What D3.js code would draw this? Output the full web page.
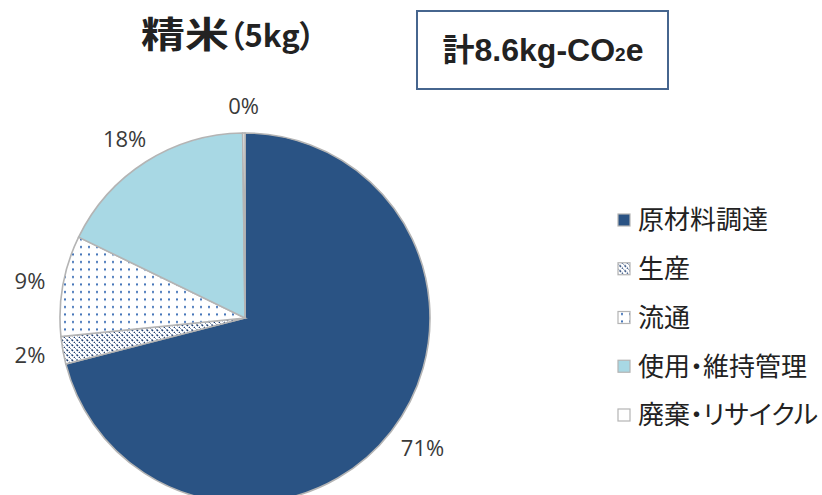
<!DOCTYPE html>
<html>
<head>
<meta charset="utf-8">
<script src="https://cdn.jsdelivr.net/npm/d3@7"></script>
<style>
  body { margin: 0; background: #fff; }
  svg { display: block; }
</style>
</head>
<body>
<div id="chart"></div>
<script>
const categories = ["原材料調達", "生産", "流通", "使用・維持管理", "廃棄・リサイクル"];
const shares = [71.0, 2.4, 8.8, 17.6, 0.2];
const sliceLabels = ["71%", "2%", "9%", "18%", "0%"];
const titleMain = "精米";
const titleSub = "（5kg）";
const totalLabel = "計8.6kg-CO";

const width = 822, height = 495;
const cx = 245, cy = 318, radius = 185;

const svg = d3.select("#chart")
  .append("svg")
  .attr("width", width)
  .attr("height", height);

const defs = svg.append("defs");

// diagonal dashed hatch for 生産
const hatch = defs.append("pattern")
  .attr("id", "hatch")
  .attr("patternUnits", "userSpaceOnUse")
  .attr("width", 5)
  .attr("height", 5);
hatch.append("rect").attr("width", 5).attr("height", 5).attr("fill", "#fff");
hatch.append("path")
  .attr("d", "M-1,-1 L6,6")
  .attr("stroke", "#1f3f73")
  .attr("stroke-width", 1.5)
  .attr("stroke-dasharray", "2.2,1.3");

// dots for 流通
const dots = defs.append("pattern")
  .attr("id", "dots")
  .attr("patternUnits", "userSpaceOnUse")
  .attr("width", 8)
  .attr("height", 7.5);
dots.append("rect").attr("width", 8).attr("height", 7.5).attr("fill", "#fff");
dots.append("rect")
  .attr("x", 3).attr("y", 3)
  .attr("width", 2).attr("height", 2)
  .attr("fill", "#3d6fb6");

const fills = ["#2a5384", "url(#hatch)", "url(#dots)", "#a8d8e4", "#ffffff"];

const color = d3.scaleOrdinal().domain(categories).range(fills);

const pieData = d3.pie()
  .sort(null)
  .value(d => d.value)(categories.map((c, i) => ({ name: c, value: shares[i], label: sliceLabels[i] })));

const arc = d3.arc().innerRadius(0).outerRadius(radius);

const g = svg.append("g").attr("transform", `translate(${cx},${cy})`);

g.selectAll("path.slice")
  .data(pieData)
  .enter()
  .append("path")
  .attr("class", "slice")
  .attr("d", arc)
  .attr("fill", d => color(d.data.name))
  .attr("stroke", "#b4b4b4")
  .attr("stroke-width", 1.6);

// outside percentage labels, box edge kept a fixed gap from the rim
const labelR = radius + 18;
const pct = g.selectAll("text.pct")
  .data(pieData)
  .enter()
  .append("text")
  .attr("class", "pct")
  .attr("text-anchor", "middle")
  .attr("dy", "0.35em")
  .style("font-family", "'Open Sans', sans-serif")
  .style("font-size", "22px")
  .style("fill", "#3a3a3a")
  .text(d => d.data.label);
pct.attr("transform", function(d) {
  const a = (d.startAngle + d.endAngle) / 2;
  const bb = this.getBBox();
  const x = Math.sin(a) * (labelR + bb.width / 2);
  const y = -Math.cos(a) * (labelR + bb.height * 0.3);
  return `translate(${x},${y})`;
});

// title
svg.append("text")
  .attr("transform", "translate(141,48) scale(1.22,1)")
  .style("font-family", "'Noto Sans CJK JP', sans-serif")
  .style("font-weight", "bold")
  .style("font-size", "36px")
  .style("fill", "#222")
  .text(titleMain);
svg.append("text")
  .attr("x", 229)
  .attr("y", 47)
  .style("font-family", "'Noto Sans CJK JP', sans-serif")
  .style("font-feature-settings", "'palt'")
  .style("font-weight", "bold")
  .style("font-size", "31px")
  .style("fill", "#222")
  .text(titleSub);

// total box
svg.append("rect")
  .attr("x", 417)
  .attr("y", 11)
  .attr("width", 251)
  .attr("height", 78)
  .attr("fill", "#fff")
  .attr("stroke", "#46658e")
  .attr("stroke-width", 2);

const total = svg.append("text")
  .attr("x", 543)
  .attr("y", 61)
  .attr("text-anchor", "middle")
  .style("font-family", "'Liberation Sans', 'Noto Sans CJK JP', sans-serif")
  .style("font-weight", "bold")
  .style("font-size", "32px")
  .style("fill", "#222");
total.append("tspan").text(totalLabel);
total.append("tspan").style("font-size", "19px").text("2");
total.append("tspan").text("e");

// legend
const legend = svg.append("g").attr("transform", "translate(618,220)");
const row = legend.selectAll("g.item")
  .data(categories)
  .enter()
  .append("g")
  .attr("class", "item")
  .attr("transform", (d, i) => `translate(0,${i * 48.75})`);
row.append("rect")
  .attr("x", 0)
  .attr("y", -6)
  .attr("width", 12)
  .attr("height", 12)
  .attr("fill", d => color(d))
  .attr("stroke", "#b4b4b4")
  .attr("stroke-width", 1.2);
row.append("text")
  .attr("x", 20)
  .attr("dy", "0.36em")
  .style("font-family", "'Noto Sans CJK JP', sans-serif")
  .style("font-feature-settings", "'palt'")
  .style("font-size", "26px")
  .style("fill", "#222")
  .text(d => d);
</script>
</body>
</html>
